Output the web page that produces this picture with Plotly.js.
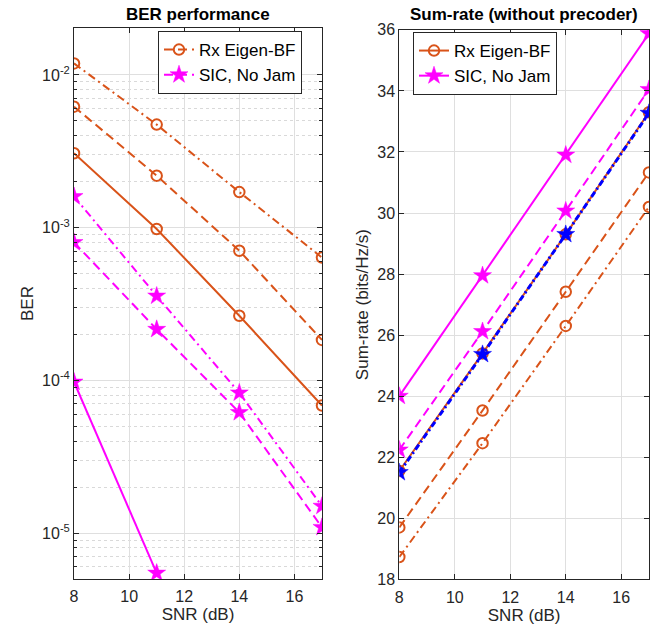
<!DOCTYPE html>
<html>
<head>
<meta charset="utf-8">
<script src="https://cdn.plot.ly/plotly-3.0.1.min.js"></script>
<style>html,body{margin:0;padding:0;background:#fff;}#chart{width:661px;height:635px;}</style>
</head>
<body>
<div id="chart"></div>
<script>
// ---- data ----
const snr = [8, 11, 14, 17];
const snrShort = [8, 11];
const xTicks = [8, 10, 12, 14, 16];

// BER performance (left)
const berRxDashDot = [0.0119, 0.00473, 0.00171, 0.000637];
const berRxDash = [0.0062, 0.00219, 0.000706, 0.000184];
const berRxSolid = [0.00307, 0.00098, 0.000265, 0.0000684];
const berSicDashDot = [0.0016, 0.000357, 0.0000828, 0.000015];
const berSicDash = [0.0008, 0.000216, 0.0000616, 0.0000109];
const berSicSolid = [0.0000975, 0.00000547];
const berTickVals = [1e-5, 1e-4, 1e-3, 1e-2];
const berTickText = ['10<sup>-5</sup>', '10<sup>-4</sup>', '10<sup>-3</sup>', '10<sup>-2</sup>'];

// Sum-rate (right)
const rateSicSolid = [24.0, 27.95, 31.9, 35.88];
const rateSicDash = [22.24, 26.12, 30.07, 34.05];
const rateRxSolid = [21.55, 25.4, 29.3, 33.3];
const rateBlue = [21.5, 25.37, 29.3, 33.27];
const rateRxDash = [19.7, 23.53, 27.42, 31.33];
const rateRxDashDot = [18.73, 22.46, 26.3, 30.2];
const rateTicks = [18, 20, 22, 24, 26, 28, 30, 32, 34, 36];

const legendNames = ['Rx Eigen-BF', 'SIC, No Jam'];

// ---- styles ----
const ORANGE = '#D95319', MAGENTA = '#FF00FF', BLUE = '#0000FF';
const DASH = '9px,5px', DASHDOT = '8px,4px,2px,4px';
const FONT = 'Liberation Sans, Arial, sans-serif';
const AXC = '#262626', GRID = '#DFDFDF';

function circ(color){ return {symbol:'circle-open', size:10.5, color:color, line:{width:2, color:color}}; }
function star(color){ return {symbol:'star', size:13.5, color:color, line:{width:0.5, color:color}}; }
function tr(x, y, color, dash, marker, name, show, xa, ya, leg, w){
  return {x:x, y:y, type:'scatter', mode:'lines+markers', name:name, showlegend:show,
    legend:leg, xaxis:xa, yaxis:ya, line:{color:color, width:w||2, dash:dash}, marker:marker};
}

const traces = [
  // left: legend entries first (dashed)
  tr(snr, berRxDash, ORANGE, DASH, circ(ORANGE), legendNames[0], true, 'x', 'y', 'legend'),
  tr(snr, berSicDash, MAGENTA, DASH, star(MAGENTA), legendNames[1], true, 'x', 'y', 'legend'),
  tr(snr, berRxDashDot, ORANGE, DASHDOT, circ(ORANGE), legendNames[0], false, 'x', 'y', 'legend'),
  tr(snr, berRxSolid, ORANGE, 'solid', circ(ORANGE), legendNames[0], false, 'x', 'y', 'legend'),
  tr(snr, berSicDashDot, MAGENTA, DASHDOT, star(MAGENTA), legendNames[1], false, 'x', 'y', 'legend'),
  tr(snrShort, berSicSolid, MAGENTA, 'solid', star(MAGENTA), legendNames[1], false, 'x', 'y', 'legend'),
  // right
  tr(snr, rateRxSolid, ORANGE, 'solid', circ(ORANGE), legendNames[0], true, 'x2', 'y2', 'legend2'),
  tr(snr, rateSicSolid, MAGENTA, 'solid', star(MAGENTA), legendNames[1], true, 'x2', 'y2', 'legend2'),
  tr(snr, rateSicDash, MAGENTA, DASH, star(MAGENTA), legendNames[1], false, 'x2', 'y2', 'legend2'),
  tr(snr, rateRxDash, ORANGE, DASH, circ(ORANGE), legendNames[0], false, 'x2', 'y2', 'legend2'),
  tr(snr, rateRxDashDot, ORANGE, DASHDOT, circ(ORANGE), legendNames[0], false, 'x2', 'y2', 'legend2'),
  tr(snr, rateBlue, BLUE, '6px,3px,2px,3px', star(BLUE), 'SIC', false, 'x2', 'y2', 'legend2', 3)
];

// minor grid values for log axis
const minorVals = [];
for (let e = -6; e <= -2; e++) for (let m = 2; m <= 9; m++) minorVals.push(m * Math.pow(10, e));

const tickFont = {family: FONT, size: 16, color: AXC};
const labFont = {family: FONT, size: 17, color: AXC};
function xax(domain, anchor){
  return {domain:domain, anchor:anchor, range:[8,17], tickvals:xTicks, ticks:'inside', ticklen:5,
    tickcolor:AXC, showline:true, linecolor:AXC, linewidth:1, mirror:'ticks', showgrid:true,
    gridcolor:GRID, zeroline:false, tickfont:tickFont, ticklabelstandoff:3,
    title:{text:'SNR (dB)', font:labFont, standoff:3}};
}

const layout = {
  width:661, height:635, margin:{l:0, r:0, t:0, b:0},
  paper_bgcolor:'#fff', plot_bgcolor:'#fff', font:{family:FONT, color:AXC},
  xaxis: xax([0.1120, 0.4871], 'y'),
  yaxis: {domain:[0.0882, 0.9559], anchor:'x', type:'log', range:[Math.log10(5e-6), Math.log10(0.0203)],
    tickvals:berTickVals, ticktext:berTickText, ticks:'inside', ticklen:5, tickcolor:AXC,
    showline:true, linecolor:AXC, linewidth:1, mirror:'ticks', showgrid:true, gridcolor:GRID,
    zeroline:false, tickfont:tickFont,
    minor:{tickvals:minorVals, ticks:'inside', ticklen:3, tickcolor:AXC, showgrid:true, gridcolor:'#D9D9D9', griddash:'dot', gridwidth:1},
    title:{text:'BER', font:labFont, standoff:4}},
  xaxis2: xax([0.6041, 0.9818], 'y2'),
  yaxis2: {domain:[0.0877, 0.953], anchor:'x2', range:[18,36], tickvals:rateTicks, ticks:'inside', ticklen:5,
    tickcolor:AXC, showline:true, linecolor:AXC, linewidth:1, mirror:'ticks', showgrid:true,
    gridcolor:GRID, zeroline:false, tickfont:tickFont,
    title:{text:'Sum-rate (bits/Hz/s)', font:labFont, standoff:4}},
  legend: {x:158/661, y:1-31/635, xanchor:'left', yanchor:'top', bgcolor:'#fff', bordercolor:AXC, borderwidth:1,
    font:{family:FONT, size:17, color:'#000'}, tracegroupgap:0, itemwidth:30},
  legend2: {x:413/661, y:1-32/635, xanchor:'left', yanchor:'top', bgcolor:'#fff', bordercolor:AXC, borderwidth:1,
    font:{family:FONT, size:17, color:'#000'}, tracegroupgap:0, itemwidth:30},
  annotations: [
    {text:'<b>BER performance</b>', xref:'paper', yref:'paper', x:(74+322)/2/661, y:1-15/635,
      xanchor:'center', yanchor:'middle', showarrow:false, font:{family:FONT, size:17, color:'#000'}},
    {text:'<b>Sum-rate (without precoder)</b>', xref:'paper', yref:'paper', x:(399+649)/2/661, y:1-15/635,
      xanchor:'center', yanchor:'middle', showarrow:false, font:{family:FONT, size:17, color:'#000'}}
  ],
  showlegend:true
};

Plotly.newPlot('chart', traces, layout, {staticPlot:true, displayModeBar:false});
</script>
</body>
</html>
